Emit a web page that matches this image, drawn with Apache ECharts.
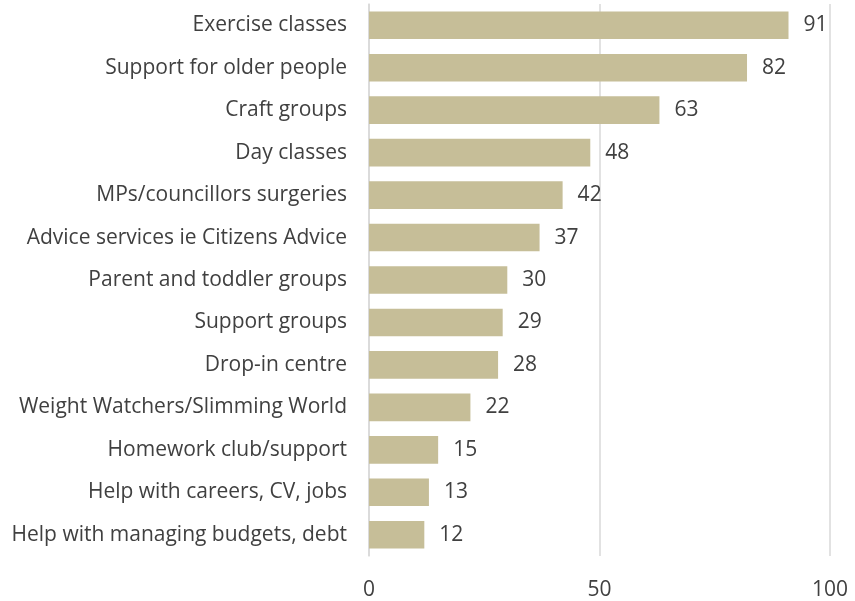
<!DOCTYPE html>
<html><head><meta charset="utf-8">
<script src="https://cdn.jsdelivr.net/npm/echarts@6/dist/echarts.min.js"></script>
<style>html,body{margin:0;padding:0;background:#fff}#c{width:855px;height:601px}</style>
</head><body><div id="c"></div>
<script>
const categories = [
  "Exercise classes",
  "Support for older people",
  "Craft groups",
  "Day classes",
  "MPs/councillors surgeries",
  "Advice services ie Citizens Advice",
  "Parent and toddler groups",
  "Support groups",
  "Drop-in centre",
  "Weight Watchers/Slimming World",
  "Homework club/support",
  "Help with careers, CV, jobs",
  "Help with managing budgets, debt"
];
const values = [91, 82, 63, 48, 42, 37, 30, 29, 28, 22, 15, 13, 12];

const chart = echarts.init(document.getElementById('c'));
const font = '"Open Sans", "Noto Sans", sans-serif';
chart.setOption({
  animation: false,
  grid: { left: 369, right: 25, top: 4, bottom: 40, containLabel: false },
  xAxis: {
    type: 'value', min: 0, max: 100, interval: 50,
    axisLine: { show: false }, axisTick: { show: false },
    splitLine: { show: true, lineStyle: { color: '#d9d9d9', width: 1.5 } },
    axisLabel: { color: '#404040', fontSize: 21, fontFamily: font, margin: 24 }
  },
  yAxis: {
    type: 'category', data: categories, inverse: true,
    axisLine: { show: true, lineStyle: { color: '#d9d9d9', width: 1.5 } },
    axisTick: { show: false },
    axisLabel: { color: '#404040', fontSize: 21, fontFamily: font, margin: 22 }
  },
  series: [{
    type: 'bar', data: values, barWidth: '65%',
    itemStyle: { color: '#c6be98' },
    label: { show: true, position: 'right', distance: 15, color: '#404040', fontSize: 21, fontFamily: font }
  }]
});
</script></body></html>
